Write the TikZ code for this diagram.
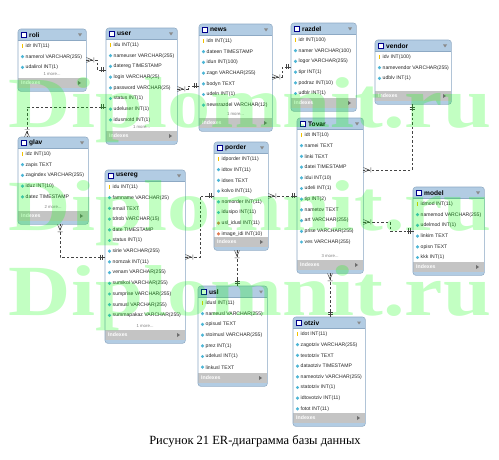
\documentclass[tikz,border=0pt]{standalone}
\usepackage{fontspec}
\setmainfont{Liberation Sans}
\newfontfamily\capfont{Liberation Serif}
\usetikzlibrary{shapes.geometric}
\definecolor{hdblue}{HTML}{B2CCE3}
\definecolor{bordercol}{HTML}{8DA9C4}
\definecolor{idxgray}{HTML}{C4C4C4}
\definecolor{keyyellow}{HTML}{F2C200}
\definecolor{colcyan}{HTML}{4DB6D6}
\definecolor{fkorange}{HTML}{E07B53}
\definecolor{trigray}{HTML}{8A8A8A}
\definecolor{linegray}{HTML}{444444}
\definecolor{wmgreen}{HTML}{00FF00}
\tikzset{
  erbg/.style={rectangle, rounded corners=3pt, fill=hdblue, draw=none, inner sep=0pt},
  erborder/.style={draw=bordercol, line width=0.6pt, rounded corners=3pt},
  hdline/.style={draw=bordercol, line width=0.3pt},
  tblicon/.style={rectangle, draw=blue!55!black, fill=white, line width=0.4pt, minimum width=5pt, minimum height=4.5pt, inner sep=0pt},
  titletext/.style={font=\fontsize{6.6}{7}\selectfont\bfseries, inner sep=0pt, text=black},
  rowtext/.style={font=\fontsize{5.1}{6}\selectfont, inner sep=0pt, text=black!85},
  moretext/.style={font=\fontsize{4.3}{5}\selectfont, inner sep=0pt, text=black!50},
  idxtext/.style={font=\fontsize{5.2}{6}\selectfont\bfseries, inner sep=0pt, text=white},
  pk/.style={rectangle, fill=keyyellow, minimum width=1.6pt, minimum height=4.2pt, inner sep=0pt},
  col/.style={diamond, fill=colcyan, minimum size=3.6pt, inner sep=0pt},
  fk/.style={diamond, fill=fkorange, minimum size=3.6pt, inner sep=0pt},
  erline/.style={draw=linegray, line width=0.45pt, dash pattern=on 2.5pt off 2pt},
  endline/.style={draw=linegray, line width=0.45pt},
  crow/.pic={\draw[endline] (-6,0) -- (0,2.5) (-6,0) -- (0,-2.5) (-6,0) -- (0,0) (-7.5,-2.5) -- (-7.5,2.5);},
  dbar/.pic={\draw[endline] (-3,-2.5) -- (-3,2.5) (-5,-2.5) -- (-5,2.5) (-6,0) -- (0,0);},
  wm/.style={font=\capfont\bfseries\fontsize{72}{72}\selectfont, text=wmgreen, opacity=0.24, inner sep=0pt, xscale=1.2, anchor=base},
  captext/.style={font=\capfont\fontsize{12.5}{14}\selectfont, inner sep=0pt, text=black}
}
\newcommand{\erbox}[8]{%
  \pgfmathsetmacro{\bw}{#4-#3}%
  \pgfmathsetmacro{\bh}{#6-#5}%
  \node[erbg, minimum width=\bw pt, minimum height=\bh pt, anchor=north west] (#1) at (#3,#5) {};%
  \fill[white] (#3+0.4,#5+11) rectangle (#4-0.4,#6-13);%
  \fill[idxgray] (#3+0.4,#6-13) rectangle (#4-0.4,#6-3);%
  \draw[hdline] (#3,#5+11) -- (#4,#5+11);%
  \draw[erborder] (#1.north west) rectangle (#1.south east);%
  \node[tblicon] at (#3+5.5,#5+5.5) {};%
  \node[titletext, anchor=west] at (#3+11,#5+5.8) {#2};%
  \fill[trigray] (#4-8,#5+4.5) -- (#4-4,#5+4.5) -- (#4-6,#5+7.5) -- cycle;%
  \foreach \k/\t [count=\i from 0] in {#7} {%
    \node[\k] at (#3+4.5,#5+17+\i*10.7) {};%
    \node[rowtext, anchor=west] at (#3+7.5,#5+17+\i*10.7) {\t};%
  }%
  \node[moretext] at ({(#3+#4)/2},#6-17) {#8};%
  \node[idxtext, anchor=west] at (#3+3,#6-8) {Indexes};%
  \fill[trigray!80!black] (#4-8,#6-10) -- (#4-8,#6-6) -- (#4-5,#6-8) -- cycle;%
}
\begin{document}
\begin{tikzpicture}[x=1pt,y=-1pt]
\useasboundingbox (0,0) rectangle (499,460);
\fill[white] (0,0) rectangle (499,460);

\erbox{roli}{roli}{18}{86}{29}{91}{pk/idr INT(11), col/namerol VARCHAR(255), col/udalirol INT(1)}{1 more...}
\erbox{user}{user}{106}{177}{28}{144}{pk/idu INT(11), col/nameuser VARCHAR(255), col/datereg TIMESTAMP, col/login VARCHAR(25), col/password VARCHAR(25), col/status INT(1), col/udeluser INT(1), col/idusmotd INT(1)}{1 more...}
\erbox{news}{news}{199}{272}{24}{131}{pk/idn INT(11), col/dateen TIMESTAMP, col/idun INT(100), col/zagn VARCHAR(255), col/bodyn TEXT, col/udeln INT(1), col/newsrazdel VARCHAR(12)}{1 more...}
\erbox{razdel}{razdel}{291}{356}{23}{111}{pk/idr INT(100), col/namer VARCHAR(100), col/logor VARCHAR(255), col/tipr INT(1), col/podraz INT(10), col/udblr INT(1)}{}
\erbox{vendor}{vendor}{375}{451}{40}{104}{pk/idv INT(100), col/namevendor VARCHAR(255), col/udblv INT(1)}{}
\erbox{glav}{glav}{18}{88}{137}{224}{pk/idz INT(10), col/zapis TEXT, col/zagindex VARCHAR(255), col/iduz INT(10), col/datez TIMESTAMP}{2 more...}
\erbox{usereg}{usereg}{105}{185}{170}{343}{pk/idu INT(11), col/famname VARCHAR(25), col/email TEXT, col/tdrob VARCHAR(15), col/date TIMESTAMP, col/status INT(1), col/sirie VARCHAR(255), col/nomzak INT(11), col/venam VARCHAR(255), col/sumikol VARCHAR(255), col/sumprise VARCHAR(255), col/sumusl VARCHAR(255), col/summapakaz VARCHAR(255)}{1 more...}
\erbox{porder}{porder}{214}{268}{142}{250}{pk/idporder INT(11), col/idtov INT(11), col/idses TEXT, col/kolvo INT(11), col/nomorder INT(11), col/idusipo INT(11), fk/usl\_idusl INT(11), fk/image\_idi INT(10)}{}
\erbox{Tovar}{Tovar}{297}{363}{118}{273}{pk/idt INT(10), col/namei TEXT, col/linki TEXT, col/datei TIMESTAMP, col/idui INT(10), col/udeli INT(1), col/tip INT(2), col/nametov TEXT, col/art VARCHAR(255), col/prise VARCHAR(255), col/ves VARCHAR(255)}{3 more...}
\erbox{model}{model}{413}{484}{187}{275}{pk/idmod INT(11), col/namemod VARCHAR(255), col/udelmod INT(1), col/linkim TEXT, col/opisn TEXT, col/kkk INT(1)}{}
\erbox{usl}{usl}{198}{267}{286}{386}{pk/idusl INT(11), col/nameusl VARCHAR(255), col/opisusl TEXT, col/stoimusl VARCHAR(255), col/prez INT(1), col/udelusl INT(1), col/linkusl TEXT}{}
\erbox{otziv}{otziv}{293}{365}{317}{426}{pk/idot INT(11), col/zagotziv VARCHAR(255), col/textotziv TEXT, col/dataotziv TIMESTAMP, col/nameotziv VARCHAR(255), col/statotziv INT(1), col/idtovotziv INT(11), col/fotot INT(11)}{}

% connectors
\draw[erline] (roli.east |- 0,60) -- (97,60) -- (97,70) -- (user.west |- 0,70);
\pic[rotate=180] at (roli.east |- 0,60) {crow};
\pic at (user.west |- 0,70) {dbar};

\draw[erline] (user.west |- 0,107) -- (27,107) -- (glav.north -| 27,0);
\pic at (user.west |- 0,107) {dbar};
\pic[rotate=-90] at (glav.north -| 27,0) {crow};

\draw[erline] (user.east |- 0,89) -- (188,89) -- (188,86) -- (news.west |- 0,86);
\pic[rotate=180] at (user.east |- 0,89) {crow};
\pic at (news.west |- 0,86) {dbar};

\draw[erline] (news.east |- 0,77) -- (282,77) -- (282,67) -- (razdel.west |- 0,67);
\pic[rotate=180] at (news.east |- 0,77) {crow};
\pic at (razdel.west |- 0,67) {dbar};

\draw[erline] (vendor.south -| 412,0) -- (412,170) -- (Tovar.east |- 0,170);
\pic[rotate=90] at (vendor.south -| 412,0) {dbar};
\pic[rotate=180] at (Tovar.east |- 0,170) {crow};

\draw[erline] (Tovar.east |- 0,222) -- (390,222) -- (390,231) -- (model.west |- 0,231);
\pic[rotate=180] at (Tovar.east |- 0,222) {crow};
\pic at (model.west |- 0,231) {dbar};

\draw[erline] (porder.east |- 0,196) -- (Tovar.west |- 0,196);
\pic[rotate=180] at (porder.east |- 0,196) {crow};
\pic at (Tovar.west |- 0,196) {dbar};

\draw[erline] (usereg.east |- 0,257) -- (200,257) -- (200,196) -- (porder.west |- 0,196);
\pic[rotate=180] at (usereg.east |- 0,257) {crow};
\pic at (porder.west |- 0,196) {dbar};

\draw[erline] (usereg.west |- 0,257) -- (60,257) -- (glav.south -| 60,0);
\pic at (usereg.west |- 0,257) {dbar};
\pic[rotate=90] at (glav.south -| 60,0) {crow};

\draw[erline] (porder.south -| 237,0) -- (usl.north -| 237,0);
\pic[rotate=90] at (porder.south -| 237,0) {crow};
\pic[rotate=-90] at (usl.north -| 237,0) {dbar};

\draw[erline] (Tovar.south -| 330,0) -- (otziv.north -| 330,0);
\pic[rotate=90] at (Tovar.south -| 330,0) {crow};
\pic[rotate=-90] at (otziv.north -| 330,0) {dbar};

% watermark
\node[wm] (wm1) at (250,128) {Diplomnit.ru};
\node[wm] (wm2) at (250,230) {Diplomnit.ru};
\node[wm] (wm3) at (250,315) {Diplomnit.ru};

% caption
\node[captext] (cap) at (255,441) {Рисунок 21 ER-диаграмма базы данных};
\end{tikzpicture}
\end{document}
